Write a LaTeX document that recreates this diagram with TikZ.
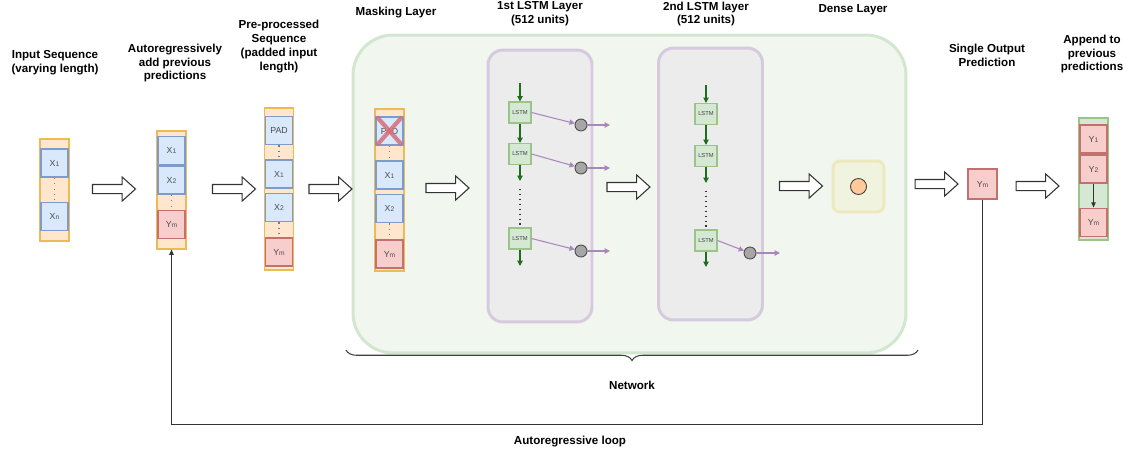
\documentclass[tikz,border=0pt]{standalone}
\usepackage{fontspec}
\setmainfont{Liberation Sans}
\usetikzlibrary{positioning,calc}
\usetikzlibrary{arrows.meta,decorations.pathreplacing,shapes.arrows}
\definecolor{SeqBlue}{HTML}{DAE8FC}
\definecolor{SeqBlueLine}{HTML}{7E9CCB}
\definecolor{PredRed}{HTML}{F8CECC}
\definecolor{PredRedLine}{HTML}{C4706C}
\definecolor{PadOrange}{HTML}{FFE6CC}
\definecolor{PadOrangeLine}{HTML}{EDBB55}
\definecolor{CellGreen}{HTML}{D5E8D4}
\definecolor{CellGreenLine}{HTML}{9CC48A}
\definecolor{NetGreen}{HTML}{F1F7EF}
\definecolor{NetGreenLine}{HTML}{D3E6CF}
\definecolor{PanelGray}{HTML}{ECECEC}
\definecolor{PanelLine}{HTML}{D6CADF}
\definecolor{FlowPurple}{HTML}{A887BA}
\definecolor{FlowGreen}{HTML}{1F6E1F}
\definecolor{DenseFill}{HTML}{F0F3DE}
\definecolor{DenseLine}{HTML}{EDE8BE}
\definecolor{UnitOrange}{HTML}{FFC999}
\definecolor{MaskRed}{RGB}{214,110,120}
\newcommand{\lowsub}[1]{{\fontsize{3.8}{4}\selectfont #1}}
\tikzset{
  title/.style={font=\fontsize{6.6}{7.9}\selectfont\bfseries,align=center,inner sep=0pt},
  seqbg/.style={draw=PadOrangeLine,fill=PadOrange,line width=0.6pt,minimum width=0.58cm,inner sep=0pt},
  tok/.style={draw=SeqBlueLine,fill=SeqBlue,line width=1.1pt,minimum width=0.54cm,minimum height=0.56cm,
    inner sep=0pt,font=\fontsize{5}{6}\selectfont,text=black!70},
  pred/.style={tok,draw=PredRedLine,fill=PredRed},
  gap/.style={draw=SeqBlueLine!80!black,line width=0.6pt,dash pattern=on 0.6pt off 2.4pt},
  fat/.style={single arrow,draw=black!80,fill=white,line width=0.6pt,minimum height=0.86cm,inner sep=0.08cm,
    single arrow head extend=0.15cm,single arrow tip angle=84},
  panel/.style={draw=PanelLine,fill=PanelGray,line width=1.7pt,rounded corners=0.3cm,minimum width=2.08cm,minimum height=5.44cm},
  cell/.style={draw=CellGreenLine,fill=CellGreen,line width=0.6pt,minimum width=0.44cm,minimum height=0.42cm,
    inner sep=0pt,font=\fontsize{3.3}{4}\selectfont,text=black!75},
  unit/.style={circle,draw=black!70,fill=black!35,line width=0.5pt,minimum size=0.24cm,inner sep=0pt},
  downflow/.style={draw=FlowGreen,line width=0.6pt,-{Triangle[length=3pt,width=3pt]}},
  outflow/.style={draw=FlowPurple,line width=0.6pt,-{Triangle[length=3pt,width=3pt]}},
  chain/.style={draw=black!80,line width=0.6pt,dash pattern=on 0.8pt off 2pt},
  maskx/.style={draw=MaskRed,line width=2.4pt,opacity=0.85},
  loopline/.style={draw=black!80,line width=0.6pt,-{Triangle[length=3pt,width=2.5pt]}},
}

\begin{document}
\begin{tikzpicture}[x=0.02cm,y=-0.02cm]
\useasboundingbox[fill=white] (0,0) rectangle (1126,450);
% titles
\node[title](t1) at (55,63){Input Sequence\\(varying length)};
\node[title](t2) at (175,63){Autoregressively\\add previous\\predictions};
\node[title](t3) at (279,46.5){Pre-processed\\Sequence\\(padded input\\length)};
\node[title](t4) at (396,13){Masking Layer};
\node[title](t5) at (540,14){1st LSTM Layer\\(512 units)};
\node[title](t6) at (706,14){2nd LSTM layer\\(512 units)};
\node[title](t7) at (853,10){Dense Layer};
\node[title](t8) at (987,55){Single Output\\Prediction};
\node[title](t9) at (1092,54){Append to\\previous\\predictions};

% network box
\node[draw=NetGreenLine,fill=NetGreen,line width=1.7pt,rounded corners=0.8cm,minimum width=11.06cm,minimum height=6.36cm](net) at (629.5,194){};
\node[panel](p1) at (540,186){};
\node[panel](p2) at (710.5,184){};
\node[draw=DenseLine,fill=DenseFill,line width=1.7pt,rounded corners=0.14cm,minimum size=1.02cm](dl) at (858.5,186.5){};
\node[circle,draw=black!75,fill=UnitOrange,line width=0.5pt,minimum size=0.32cm,inner sep=0pt](du) at (858.5,186.5){};

% input sequence
\node[seqbg,minimum height=2.04cm](c1) at (54.5,190){};
\node[tok](a1) at (54.5,163){X\lowsub{1}};
\node[tok](an) at (54.5,216.5){X\lowsub{n}};
\draw[gap] (a1.south) -- (an.north);

% autoregressive sequence
\node[seqbg,minimum height=2.36cm](c2) at (171.5,190){};
\node[tok](b1) at (171.5,150.5){X\lowsub{1}};
\node[tok](b2) at (171.5,180){X\lowsub{2}};
\node[pred](bm) at (171.5,224.5){Y\lowsub{m}};
\draw[gap] (b2.south) -- (bm.north);

% pre-processed sequence
\node[seqbg,minimum height=3.24cm](c3) at (279,189){};
\node[tok](k0) at (279,130.5){PAD};
\node[tok](k1) at (279,174){X\lowsub{1}};
\node[tok](k2) at (279,207.5){X\lowsub{2}};
\node[pred](km) at (279,252){Y\lowsub{m}};
\draw[gap] (k0.south) -- (k1.north);\draw[gap] (k2.south) -- (km.north);

% masking layer
\node[seqbg,minimum height=3.24cm](c4) at (389.5,190){};
\node[tok](m0) at (389.5,131){PAD};
\node[tok](m1) at (389.5,175){X\lowsub{1}};
\node[tok](m2) at (389.5,208.5){X\lowsub{2}};
\node[pred](mm) at (389.5,254){Y\lowsub{m}};
\draw[gap] (m0.south) -- (m1.north);\draw[gap] (m2.south) -- (mm.north);
\draw[maskx] ([shift={(2,1)}]m0.north west) -- ([shift={(-2,-1)}]m0.south east);
\draw[maskx] ([shift={(2,-1)}]m0.south west) -- ([shift={(-2,1)}]m0.north east);

% 1st LSTM layer
\node[cell](l1a) at (520,112.5){LSTM};\node[cell](l1b) at (520,154){LSTM};\node[cell](l1c) at (520,238.5){LSTM};
\node[unit](o1a) at (581,125){};\node[unit](o1b) at (581,168){};\node[unit](o1c) at (581,251){};
\coordinate (i1) at (520,83);\coordinate (e1) at (520,181);\coordinate (d1) at (520,189);\coordinate (f1) at (520,266);
\coordinate (r1a) at (610,125);\coordinate (r1b) at (610,168);\coordinate (r1c) at (610,251);
\draw[downflow] (i1) -- (l1a);\draw[downflow] (l1a) -- (l1b);\draw[downflow] (l1b) -- (e1);\draw[downflow] (l1c) -- (f1);
\draw[chain] (d1) -- (l1c);
\draw[outflow] (l1a.east) -- (o1a);\draw[outflow] (l1b.east) -- (o1b);\draw[outflow] (l1c.east) -- (o1c);
\draw[outflow] (o1a) -- (r1a);\draw[outflow] (o1b) -- (r1b);\draw[outflow] (o1c) -- (r1c);

% 2nd LSTM layer
\node[cell](l2a) at (706,114){LSTM};\node[cell](l2b) at (706,156){LSTM};\node[cell](l2c) at (706,240.5){LSTM};
\node[unit](o2c) at (750,253){};
\coordinate (i2) at (706,85);\coordinate (e2) at (706,183);\coordinate (d2) at (706,191);\coordinate (f2) at (706,267);
\coordinate (r2c) at (780,253);
\draw[downflow] (i2) -- (l2a);\draw[downflow] (l2a) -- (l2b);\draw[downflow] (l2b) -- (e2);\draw[downflow] (l2c) -- (f2);
\draw[chain] (d2) -- (l2c);
\draw[outflow] (l2c.east) -- (o2c);\draw[outflow] (o2c) -- (r2c);

% output and appended predictions
\node[pred,minimum width=0.58cm,minimum height=0.6cm](ys) at (982.5,184){Y\lowsub{m}};
\node[draw=CellGreenLine,fill=CellGreen,line width=0.6pt,minimum width=0.58cm,minimum height=2.44cm,inner sep=0pt](c5) at (1093.5,179){};
\node[pred](y1) at (1093.5,139){Y\lowsub{1}};
\node[pred](y2) at (1093.5,169){Y\lowsub{2}};
\node[pred](ym) at (1093.5,222.5){Y\lowsub{m}};
\draw[loopline] (y2) -- (ym);

% block arrows
\foreach \n/\x/\y in {1/111.5/189,2/231.5/189,3/328/189,4/445/188,5/626/187,6/798.5/186,7/934/184,8/1035/186}
  \node[fat](g\n) at (\x,\y){};

% network brace and loop
\coordinate (br0) at (346,350);\coordinate (br1) at (918,350);
\draw[draw=black!75,line width=0.6pt,decorate,decoration={brace,amplitude=6pt}] (br1) -- (br0);
\node[title](nw) at (632,385){Network};
\draw[loopline] (ys.south) -- ++(0,225) -| (c2.south);
\node[title](al) at (570,442){Autoregressive loop};
\end{tikzpicture}
\end{document}
